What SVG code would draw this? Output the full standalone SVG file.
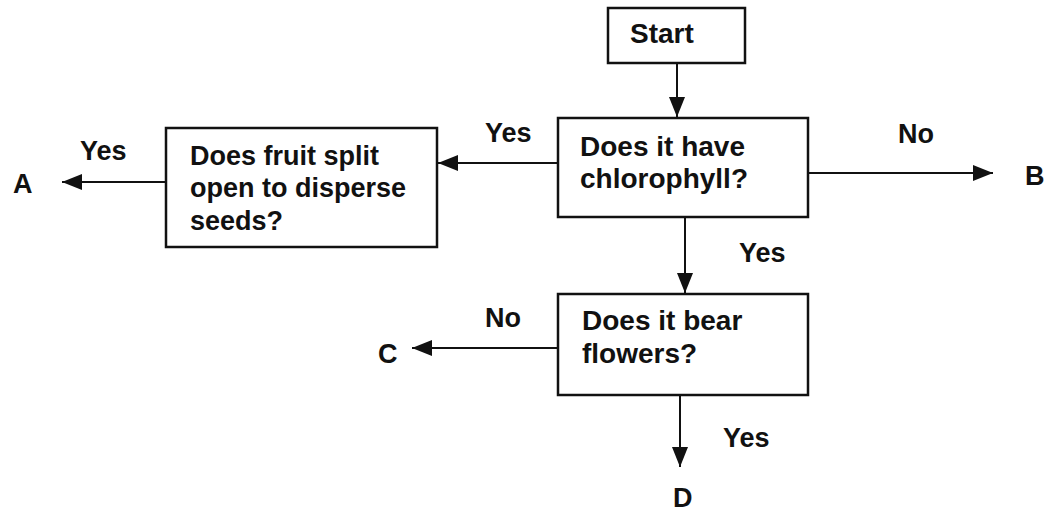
<svg xmlns="http://www.w3.org/2000/svg" width="1059" height="513" viewBox="0 0 1059 513">
<style>
.box{fill:#fff;stroke:#111;stroke-width:2.5}
.t{font-family:"Liberation Sans",Arial,sans-serif;font-weight:bold;font-size:27px;fill:#111}
.b{font-size:28px}
.c{fill:none;stroke:#111;stroke-width:2}
</style>
<defs>
<marker id="ah" markerUnits="userSpaceOnUse" markerWidth="22" markerHeight="18" refX="20" refY="8" orient="auto">
<path d="M0,0 L20,8 L0,16 z" fill="#111"/>
</marker>
</defs>
<rect width="1059" height="513" fill="#fff"/>
<g id="connectors">
<line class="c" x1="677" y1="63" x2="677" y2="117" marker-end="url(#ah)"/>
<line class="c" x1="558" y1="163" x2="438" y2="163" marker-end="url(#ah)"/>
<line class="c" x1="166" y1="182" x2="62" y2="182" marker-end="url(#ah)"/>
<line class="c" x1="808" y1="173" x2="993" y2="173" marker-end="url(#ah)"/>
<line class="c" x1="685" y1="217" x2="685" y2="293" marker-end="url(#ah)"/>
<line class="c" x1="558" y1="348" x2="412" y2="348" marker-end="url(#ah)"/>
<line class="c" x1="680" y1="395" x2="680" y2="467" marker-end="url(#ah)"/>
</g>
<g id="start">
<rect class="box" x="608" y="8" width="137" height="55"/>
<text class="t b" x="630" y="43">Start</text>
</g>
<g id="chlorophyll">
<rect class="box" x="558" y="118" width="250" height="99"/>
<text class="t b" x="580" y="156">Does it have</text>
<text class="t b" x="580" y="188">chlorophyll?</text>
</g>
<g id="fruit">
<rect class="box" x="166" y="128" width="271" height="119"/>
<text class="t" x="190" y="165">Does fruit split</text>
<text class="t" x="190" y="197">open to disperse</text>
<text class="t" x="190" y="230">seeds?</text>
</g>
<g id="flowers">
<rect class="box" x="558" y="294" width="250" height="101"/>
<text class="t b" x="582" y="330">Does it bear</text>
<text class="t b" x="582" y="363">flowers?</text>
</g>
<g id="labels">
<text class="t" x="80" y="160">Yes</text>
<text class="t" x="13" y="193">A</text>
<text class="t" x="485" y="142">Yes</text>
<text class="t" x="898" y="143">No</text>
<text class="t" x="1025" y="185">B</text>
<text class="t" x="739" y="262">Yes</text>
<text class="t" x="485" y="327">No</text>
<text class="t" x="378" y="363">C</text>
<text class="t" x="723" y="447">Yes</text>
<text class="t" x="673" y="507">D</text>
</g>
</svg>
